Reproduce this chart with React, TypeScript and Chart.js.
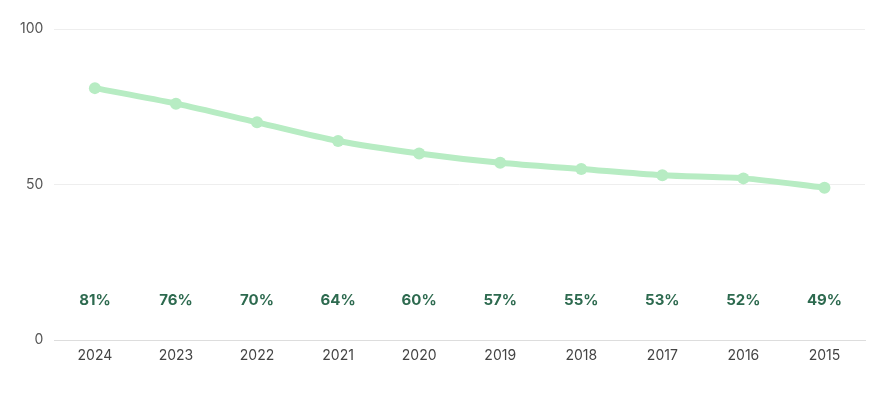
import React, { useEffect, useRef } from "react";
import { Chart, registerables } from "chart.js";

Chart.register(...registerables);

const years = ["2024", "2023", "2022", "2021", "2020", "2019", "2018", "2017", "2016", "2015"];
const values = [81, 76, 70, 64, 60, 57, 55, 53, 52, 49];
const yTicks = [0, 50, 100];

const FONT = "Inter, 'Open Sans', sans-serif";

const labelPlugin = {
  id: "pctLabels",
  afterDatasetsDraw(chart: any) {
    const { ctx, chartArea } = chart;
    const meta = chart.getDatasetMeta(0);
    ctx.save();
    ctx.font = `700 15px ${FONT}`;
    ctx.fillStyle = "#2d6a4f";
    ctx.textAlign = "center";
    ctx.textBaseline = "middle";
    meta.data.forEach((pt: any, i: number) => {
      ctx.fillText(values[i] + "%", pt.x, chartArea.bottom - 40);
    });
    ctx.restore();
  },
};

export default function App() {
  const ref = useRef<HTMLCanvasElement>(null);
  useEffect(() => {
    document.body.style.margin = "0";
    const chart = new Chart(ref.current!, {
      type: "line",
      data: {
        labels: years,
        datasets: [
          {
            data: values,
            borderColor: "#b7ecc3",
            backgroundColor: "#b7ecc3",
            borderWidth: 6,
            pointRadius: 6,
            pointHoverRadius: 6,
            pointBorderWidth: 0,
            tension: 0.3,
          },
        ],
      },
      options: {
        responsive: false,
        animation: false,
        layout: { padding: { top: 29, right: 21, bottom: 35, left: 9 } },
        plugins: { legend: { display: false }, tooltip: { enabled: false } },
        scales: {
          x: {
            offset: true,
            grid: { display: false },
            border: { display: true, color: "#dddddd", width: 1 },
            ticks: { color: "#444", font: { family: FONT, size: 14 }, padding: -1 },
          },
          y: {
            min: 0,
            max: 100,
            afterBuildTicks: (axis: any) => {
              axis.ticks = yTicks.map((v) => ({ value: v }));
            },
            grid: { color: "#eeeeee", drawTicks: false },
            border: { display: false },
            ticks: { color: "#555", font: { family: FONT, size: 14 }, padding: 11 },
          },
        },
      },
      plugins: [labelPlugin],
    });
    return () => chart.destroy();
  }, []);
  return <canvas ref={ref} width={886} height={398} style={{ display: "block" }} />;
}
